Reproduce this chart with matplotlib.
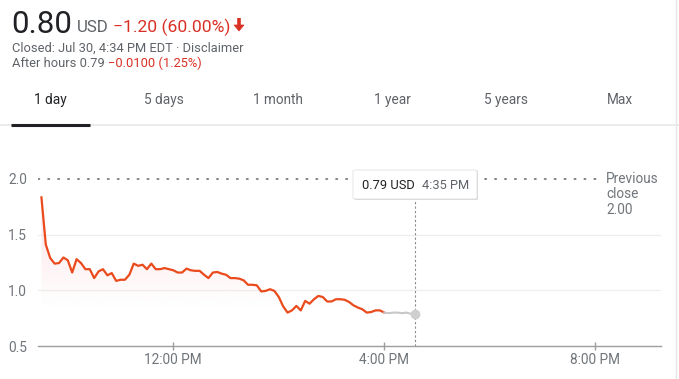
import numpy as np
import pandas as pd
import matplotlib
matplotlib.use("Agg")
import matplotlib.pyplot as plt
import matplotlib.dates as mdates
from matplotlib.patches import FancyBboxPatch, Polygon
from matplotlib.lines import Line2D

# =============== DATA ===============
day = "2018-07-30"
session_prices = [1.835, 1.41, 1.29, 1.24, 1.245, 1.295, 1.27, 1.16, 1.28, 1.245,
                  1.19, 1.19, 1.11, 1.17, 1.19, 1.135, 1.155, 1.085, 1.095, 1.095,
                  1.14, 1.24, 1.22, 1.23, 1.19, 1.24, 1.19, 1.19, 1.20, 1.19,
                  1.18, 1.16, 1.16, 1.195, 1.18, 1.175, 1.175, 1.14, 1.11, 1.16,
                  1.165, 1.15, 1.14, 1.11, 1.11, 1.105, 1.09, 1.05, 1.05, 1.045,
                  0.99, 0.995, 1.01, 0.995, 0.94, 0.855, 0.80, 0.82, 0.86, 0.82,
                  0.905, 0.88, 0.92, 0.95, 0.94, 0.90, 0.90, 0.92, 0.92, 0.915,
                  0.895, 0.865, 0.845, 0.83, 0.80, 0.805, 0.82, 0.82, 0.80]
after_prices = [0.80, 0.795, 0.80, 0.80, 0.795, 0.80, 0.79, 0.79]
session_times = pd.date_range(f"{day} 09:30", periods=len(session_prices), freq="5min")
after_times = pd.date_range(f"{day} 16:00", periods=len(after_prices), freq="5min")

prev_close = 2.00
y_ticks = [0.5, 1.0, 1.5, 2.0]
x_ticks = ["12:00", "16:00", "20:00"]
x_labels = ["12:00 PM", "4:00 PM", "8:00 PM"]
tabs = ["1 day", "5 days", "1 month", "1 year", "5 years", "Max"]

# =============== STYLE ===============
RED = "#d93025"
LINE = "#ea4a1c"
GREY = "#70757a"
DARK = "#202124"
W, H = 679, 379

plt.rcParams['font.family'] = ['Roboto', 'DejaVu Sans']

fig = plt.figure(figsize=(W / 100, H / 100), dpi=100)

def px(x, y):
    return x / W, 1 - y / H

def ftext(x, y, s, **kw):
    fig.text(*px(x, y), s, va="baseline", **kw)

# header
ftext(11, 33, "0.80", fontsize=22.5, color=DARK)
ftext(77, 32, "USD", fontsize=12.2, color="#5f6368")
ftext(113, 32, "\u22121.20 (60.00%)", fontsize=12.6, color=RED)
# thick down arrow
fig.add_artist(Line2D([239 / W] * 2, [1 - 18 / H, 1 - 27 / H], color=RED, lw=2.6,
                      solid_capstyle="butt"))
fig.add_artist(Polygon([px(234, 25), px(244, 25), px(239, 31)], closed=True,
                       transform=fig.transFigure, facecolor=RED, edgecolor=RED, lw=0.5))
ftext(12, 52, "Closed: Jul 30, 4:34 PM EDT \u00b7 Disclaimer", fontsize=9.3, color="#5f6368")
ftext(12, 67, "After hours 0.79", fontsize=9.3, color="#5f6368")
ftext(108, 67, "\u22120.0100 (1.25%)", fontsize=9.3, color=RED)

# tabs
for i, t in enumerate(tabs):
    fig.text(*px(50 + 114 * i, 104), t, ha="center", va="baseline", fontsize=9.8,
             color=DARK if i == 0 else "#5f6368")
fig.add_artist(Line2D([0, 1], [1 - 125 / H] * 2, color="#ebebeb", lw=1.4))
fig.add_artist(Line2D([11 / W, 90 / W], [1 - 124.5 / H] * 2, color="#202124", lw=2.2,
                      solid_capstyle="butt"))
fig.add_artist(Line2D([676 / W] * 2, [0, 1], color="#e6e6e6", lw=1))

# =============== CHART ===============
ax_l, ax_r, ax_b, ax_t = 38, 661, 346, 160
ax = fig.add_axes([ax_l / W, 1 - ax_b / H, (ax_r - ax_l) / W, (ax_b - ax_t) / H])

px_per_val = (346 - 179) / 1.5
ax.set_ylim(0.5, 2.0 + (179 - ax_t) / px_per_val)
noon = pd.Timestamp(f"{day} 12:00")
px_per_hour = (384.3 - 173.3) / 4
x0 = noon - pd.Timedelta(hours=(173.3 - ax_l) / px_per_hour)
x1 = noon + pd.Timedelta(hours=(ax_r - 173.3) / px_per_hour)
ax.set_xlim(mdates.date2num(x0), mdates.date2num(x1))

for s in ["top", "right", "left"]:
    ax.spines[s].set_visible(False)
ax.spines["bottom"].set_color("#9e9e9e")
ax.spines["bottom"].set_linewidth(1)

# grid lines
for v in [1.0, 1.5]:
    ax.axhline(v, color="#eeeeee", lw=0.9, zorder=0)
ax.axhline(prev_close, xmin=0, xmax=(604 - ax_l) / (ax_r - ax_l), color="#5f6368",
           lw=1.1, linestyle=(0, (1, 5.5)), dash_capstyle="round", zorder=1)

# gradient fill under the session line
sx = mdates.date2num(session_times)
sy = np.array(session_prices)
verts = np.column_stack([np.r_[sx[0], sx, sx[-1]], np.r_[0.5, sy, 0.5]])
clip = Polygon(verts, closed=True, transform=ax.transData, facecolor="none", edgecolor="none")
ax.add_patch(clip)
yy = np.linspace(0.5, 2.0, 200)[:, None]
alpha = np.clip((yy - 0.85) / 1.0, 0, 1) * 0.6
img = np.zeros((200, 1, 4))
img[..., 0], img[..., 1], img[..., 2] = 0.99, 0.80, 0.83
img[..., 3] = alpha
im = ax.imshow(img, extent=[sx[0], sx[-1], 0.5, 2.0], origin="lower", aspect="auto",
               zorder=1, interpolation="bilinear")
im.set_clip_path(clip)

ax.plot(session_times, session_prices, color=LINE, lw=1.6, zorder=3,
        solid_joinstyle="round")
ax.plot(after_times, after_prices, color="#c8c8c8", lw=1.5, zorder=3)
ax.plot(after_times[-1], after_prices[-1], "o", color="#cfcfcf", ms=6, zorder=4)

# hover line
hover_top = 2.0 - (199 - 179) / px_per_val
ax.vlines(after_times[-1], 0.5, hover_top, color="#8a8a8a", lw=0.8,
          linestyle=(0, (2, 2)), zorder=2)

ax.set_yticks(y_ticks)
ax.set_yticklabels([f"{v:.1f}" for v in y_ticks])
ax.set_xticks([mdates.date2num(pd.Timestamp(f"{day} {t}")) for t in x_ticks])
ax.set_xticklabels(x_labels)
ax.tick_params(axis="y", length=0, pad=8, labelsize=9.8, labelcolor=GREY)
ax.tick_params(axis="x", direction="inout", length=6, color="#9e9e9e", width=1,
               pad=2, labelsize=9.8, labelcolor=GREY)

# previous close label
for k, s in enumerate(["Previous", "close", "2.00"]):
    ftext(606, 183 + 15.5 * k, s, fontsize=9.8, color=GREY)

# tooltip
shadow = FancyBboxPatch(px(354, 200), 124 / W, 30 / H, boxstyle="round,pad=0,rounding_size=0.004",
                        transform=fig.transFigure, facecolor="#d6d6d6", edgecolor="none", zorder=5)
box = FancyBboxPatch(px(353, 199), 124 / W, 29 / H, boxstyle="round,pad=0,rounding_size=0.004",
                     transform=fig.transFigure, facecolor="white", edgecolor="#e2e2e2",
                     lw=0.6, zorder=6)
fig.add_artist(shadow)
fig.add_artist(box)
fig.text(*px(362, 188.5), "0.79 USD", fontsize=9.3, color=DARK, va="baseline", zorder=7)
fig.text(*px(422, 188.5), "4:35 PM", fontsize=9.3, color="#5f6368", va="baseline", zorder=7)

fig.savefig("out.png", dpi=100)
